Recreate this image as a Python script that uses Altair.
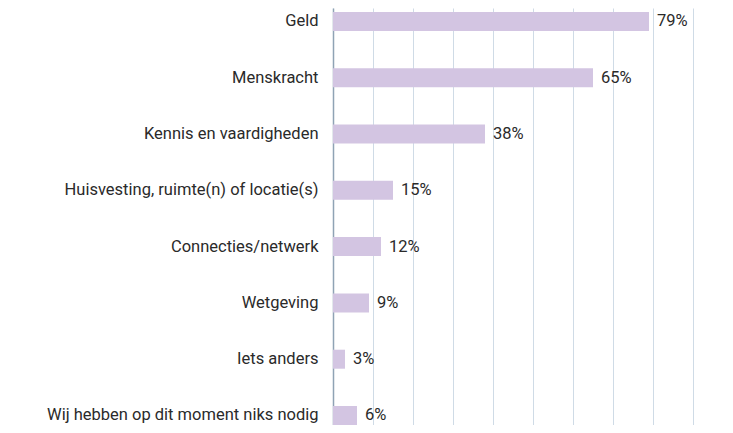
import altair as alt
import pandas as pd

categories = [
    "Geld",
    "Menskracht",
    "Kennis en vaardigheden",
    "Huisvesting, ruimte(n) of locatie(s)",
    "Connecties/netwerk",
    "Wetgeving",
    "Iets anders",
    "Wij hebben op dit moment niks nodig",
]
values = [79, 65, 38, 15, 12, 9, 3, 6]
labels = [f"{v}%" for v in values]
grid_values = list(range(0, 101, 10))

df = pd.DataFrame({"cat": categories, "val": values, "label": labels})

FONT = "Roboto"
FS = 16.5

y = alt.Y(
    "cat:N",
    sort=categories,
    title=None,
    scale=alt.Scale(paddingInner=0.6625, paddingOuter=0.0346, align=1, round=False),
    axis=alt.Axis(
        ticks=False,
        labelPadding=15,
        labelFont=FONT,
        labelFontSize=FS,
        labelColor="#2a2a2a",
        domainColor="#8fa3b5",
        domainWidth=1.5,
        grid=False,
        labelLimit=400,
    ),
)

x = alt.X(
    "val:Q",
    title=None,
    scale=alt.Scale(domain=[0, 98], nice=False, round=False),
    axis=alt.Axis(
        values=grid_values,
        grid=True,
        gridColor="#cfdbe6",
        gridWidth=1,
        labels=False,
        ticks=False,
        domain=False,
    ),
)

bars = alt.Chart(df).mark_bar(color="#d3c5e2").encode(x=x, y=y)

text = alt.Chart(df).mark_text(
    align="left", baseline="middle", dx=8, font=FONT, fontSize=FS, color="#2a2a2a"
).encode(x=x, y=y, text="label:N")

chart = (
    alt.layer(bars, text)
    .properties(
        width=392,
        height=417,
        autosize=alt.AutoSizeParams(type="none"),
        padding={"left": 325, "top": 0, "right": 0, "bottom": 0},
    )
    .configure_view(stroke=None)
)

chart.save("out.html", embed_options={"renderer": "svg", "actions": False})
